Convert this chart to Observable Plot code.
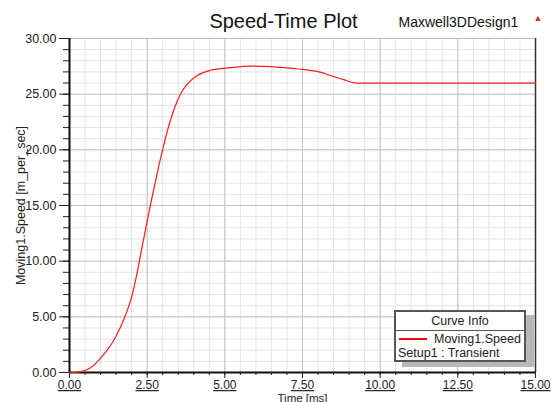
<!DOCTYPE html>
<html>
<head>
<meta charset="utf-8">
<script src="https://cdn.jsdelivr.net/npm/d3@7"></script>
<script src="https://cdn.jsdelivr.net/npm/@observablehq/plot@0.6"></script>
<style>
  body { margin: 0; background: #fff; font-family: "Liberation Sans", Arial, sans-serif; }
  #wrap { position: relative; width: 551px; height: 402px; overflow: hidden; }
  #wrap svg [aria-label="x-axis tick label"] text { text-decoration: underline; }
  #legend { position: absolute; left: 394px; top: 310px; width: 132px; height: 52px; box-sizing: border-box;
    border: 2px solid #555; background: #fff; box-shadow: 8px 5px 0 #b8b8b8; font-size: 12.5px; color: #222; }
  #legend .hd { height: 18px; line-height: 18px; text-align: center; border-bottom: 1px solid #555; }
  #legend .row { position: absolute; left: 2px; white-space: nowrap; }
  #legend .sw { position: absolute; left: 3px; top: 26px; width: 28px; height: 2px; background: #ff0000; }
</style>
</head>
<body>
<div id="wrap"></div>
<script>
// Data
const timeMs = [0, 0.3, 0.68, 1.05, 1.48, 1.8, 2.02, 2.18, 2.29, 2.5, 2.64, 2.77, 2.87, 2.98, 3.14, 3.36, 3.57, 3.79, 4.11, 4.54, 5.18, 5.83, 6.47, 7.17, 7.54, 7.97, 8.4, 8.83, 9.26, 15];
const speed  = [0, 0.03, 0.42, 1.44, 3.17, 5.12, 7.0, 9.0, 10.6, 13.6, 15.5, 17.2, 18.5, 19.8, 21.6, 23.6, 25.0, 25.9, 26.68, 27.15, 27.38, 27.52, 27.47, 27.31, 27.22, 27.04, 26.68, 26.3, 25.99, 25.99];
const xMajorTicks = [0, 2.5, 5, 7.5, 10, 12.5, 15];
const xMinorTicks = d3.range(0, 15.001, 0.5);
const yMajorTicks = [0, 5, 10, 15, 20, 25, 30];
const yMinorTicks = d3.range(0, 30.001, 1);

const data = timeMs.map((t, i) => ({t, v: speed[i]}));
const font = '"Liberation Sans", Arial, sans-serif';

const chart = Plot.plot({
  width: 551,
  height: 402,
  marginLeft: 69,
  marginRight: 16,
  marginTop: 38,
  marginBottom: 30,
  style: {fontFamily: font, fontSize: "12px", color: "#222", background: "#fff", overflow: "visible"},
  x: {domain: [0, 15]},
  y: {domain: [0, 30]},
  marks: [
    Plot.gridX(xMinorTicks, {stroke: "#e4e4e4", strokeOpacity: 1}),
    Plot.gridY(yMinorTicks, {stroke: "#e4e4e4", strokeOpacity: 1}),
    Plot.gridX(xMajorTicks, {stroke: "#c4c4c4", strokeOpacity: 1}),
    Plot.gridY(yMajorTicks, {stroke: "#c4c4c4", strokeOpacity: 1}),
    Plot.axisY(yMinorTicks, {tickSize: 6, tickFormat: () => "", label: null, stroke: "#222"}),
    Plot.axisY(yMajorTicks, {tickSize: 10, tickPadding: 3, tickFormat: d3.format(".2f"), fontSize: 12.5,
      label: "Moving1.Speed [m_per_sec]", labelAnchor: "center", labelArrow: "none", labelOffset: 53, stroke: "#222"}),
    Plot.axisX(xMinorTicks, {tickSize: 3, tickFormat: () => "", label: null, stroke: "#222"}),
    Plot.axisX(xMajorTicks, {tickSize: 6, tickPadding: 2, tickFormat: d3.format(".2f"), fontSize: 12,
      label: null, stroke: "#222"}),
    Plot.text(["Time [ms]"], {frameAnchor: "bottom", lineAnchor: "bottom", dy: 29, fontSize: 11.5, fill: "#222"}),
    Plot.ruleX([15], {stroke: "#333", strokeWidth: 1.5}),
    Plot.ruleY([30], {stroke: "#bdbdbd"}),
    Plot.ruleX([0], {stroke: "#111", strokeWidth: 2}),
    Plot.ruleY([0], {stroke: "#111", strokeWidth: 2}),
    Plot.line(data, {x: "t", y: "v", stroke: "#ff1a1a", strokeWidth: 1.2, curve: "monotone-x"}),
    Plot.text(["Speed-Time Plot"], {frameAnchor: "top", lineAnchor: "middle", dx: -19, dy: -17, fontSize: 20, fill: "#111"}),
    Plot.text(["Maxwell3DDesign1"], {frameAnchor: "top-right", lineAnchor: "middle", textAnchor: "start", dx: -137, dy: -16, fontSize: 14, fill: "#111"}),
    Plot.text(["▲"], {frameAnchor: "top-right", lineAnchor: "middle", dx: 7, dy: -20, fontSize: 9, fill: "#d03030"})
  ]
});

const wrap = document.getElementById("wrap");
wrap.appendChild(chart);
const legend = document.createElement("div");
legend.id = "legend";
legend.innerHTML = '<div class="hd">Curve Info</div><div class="sw"></div>' +
  '<div class="row" style="left:38px;top:20px">Moving1.Speed</div>' +
  '<div class="row" style="top:34px">Setup1 : Transient</div>';
wrap.appendChild(legend);
</script>
</body>
</html>
